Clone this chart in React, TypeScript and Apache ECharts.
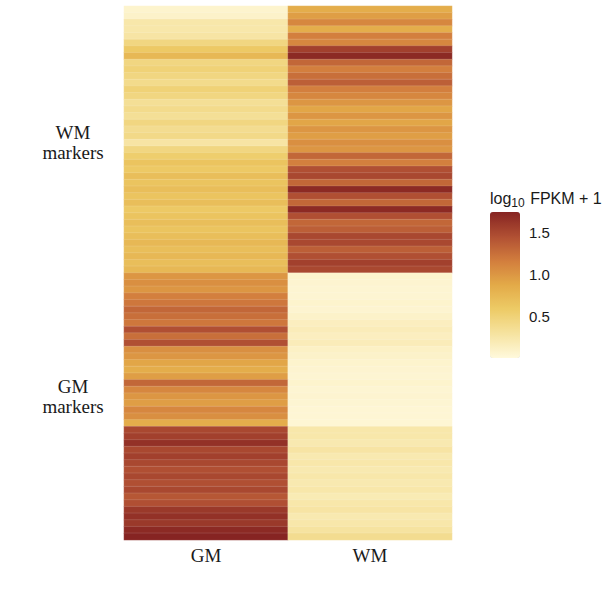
import React, { useEffect, useRef } from 'react';
import * as echarts from 'echarts';

const columns = ['GM', 'WM'];

// WM markers (top block, 40 genes)
const gmColWMMarkers = [0.08, 0.1, 0.25, 0.25, 0.28, 0.45, 0.6, 0.75, 0.45, 0.5, 0.45, 0.4, 0.5, 0.45, 0.35, 0.4, 0.35, 0.45, 0.38, 0.42, 0.28, 0.45, 0.55, 0.65, 0.6, 0.7, 0.65, 0.7, 0.65, 0.7, 0.6, 0.65, 0.7, 0.65, 0.7, 0.75, 0.7, 0.75, 0.7, 0.75];
const wmColWMMarkers = [0.85, 0.95, 1.1, 0.85, 1.15, 1.1, 1.55, 1.7, 1.3, 1.15, 1.25, 1.35, 1.15, 1.1, 1.0, 0.9, 1.0, 0.9, 1.0, 0.95, 1.05, 1.0, 1.3, 1.15, 1.45, 1.5, 1.3, 1.7, 1.45, 1.3, 1.7, 1.45, 1.3, 1.35, 1.5, 1.5, 1.35, 1.45, 1.55, 1.5];

// GM markers (bottom block, 40 genes)
const gmColGMMarkers = [1.0, 1.05, 1.0, 1.15, 1.2, 1.3, 1.25, 1.2, 1.45, 1.25, 1.45, 1.05, 1.0, 0.9, 0.85, 0.95, 1.3, 1.1, 1.0, 0.95, 1.1, 1.05, 0.85, 1.5, 1.55, 1.65, 1.5, 1.55, 1.5, 1.45, 1.5, 1.45, 1.5, 1.4, 1.45, 1.6, 1.65, 1.6, 1.7, 1.74];
const wmColGMMarkers = [0.08, 0.07, 0.06, 0.06, 0.08, 0.07, 0.1, 0.15, 0.18, 0.15, 0.18, 0.12, 0.1, 0.08, 0.07, 0.06, 0.08, 0.06, 0.07, 0.06, 0.05, 0.05, 0.05, 0.25, 0.25, 0.22, 0.28, 0.22, 0.25, 0.22, 0.25, 0.22, 0.25, 0.2, 0.25, 0.28, 0.22, 0.25, 0.3, 0.38];

const legendTicks = [0.5, 1.0, 1.5];
const valueMin = 0.01;
const valueMax = 1.74;
const colorStops = ['#FFF9DC', '#F6E3A0', '#EDCB66', '#E3AA48', '#D27D3D', '#B04F33', '#862422'];

const rowNames = [
  ...gmColWMMarkers.map((_, i) => 'WM' + (i + 1)),
  ...gmColGMMarkers.map((_, i) => 'GM' + (i + 1)),
];
const groupLabels: Record<number, string> = { 20: 'WM\nmarkers', 58: 'GM\nmarkers' };

const gmValues = [...gmColWMMarkers, ...gmColGMMarkers];
const wmValues = [...wmColWMMarkers, ...wmColGMMarkers];

export default function App() {
  const ref = useRef<HTMLDivElement>(null);
  useEffect(() => {
    if (!ref.current) return;
    const chart = echarts.init(ref.current, null, { renderer: 'svg' });
    const data: number[][] = [];
    rowNames.forEach((_, i) => {
      data.push([0, i, gmValues[i]]);
      data.push([1, i, wmValues[i]]);
    });
    const tickStyle = { color: 'rgba(255,255,255,0.85)', width: 1 };
    chart.setOption({
      animation: false,
      backgroundColor: '#ffffff',
      grid: [
        { left: 124, top: 6, width: 328, height: 534, containLabel: false, outerBoundsMode: 'none' },
        { left: 490, top: 212, width: 30, height: 146, containLabel: false, outerBoundsMode: 'none' },
      ],
      xAxis: [
        {
          type: 'category',
          gridIndex: 0,
          data: columns,
          axisLine: { show: false },
          axisTick: { show: false },
          splitLine: { show: false },
          axisLabel: { fontFamily: 'Liberation Serif', fontSize: 19, color: '#1a1a1a', margin: 6 },
        },
        { type: 'value', gridIndex: 1, min: 0, max: 1, show: false },
      ],
      yAxis: [
        {
          type: 'category',
          gridIndex: 0,
          data: rowNames,
          inverse: true,
          axisLine: { show: false },
          axisTick: { show: false },
          splitLine: { show: false },
          axisLabel: {
            interval: 0,
            formatter: (_v: string, idx: number) => groupLabels[idx] || '',
            fontFamily: 'Liberation Serif',
            fontSize: 19,
            lineHeight: 20,
            color: '#1a1a1a',
            align: 'center',
            margin: 51,
          },
        },
        {
          type: 'value',
          gridIndex: 1,
          position: 'right',
          min: valueMin,
          max: valueMax,
          axisLine: { show: false },
          splitLine: { show: false },
          axisTick: { show: true, inside: true, length: 5, customValues: legendTicks, lineStyle: tickStyle },
          axisLabel: {
            customValues: legendTicks,
            formatter: (v: number) => v.toFixed(1),
            fontFamily: 'Liberation Sans',
            fontSize: 15,
            color: '#1a1a1a',
            margin: 9,
          },
        },
        {
          type: 'value',
          gridIndex: 1,
          position: 'left',
          min: valueMin,
          max: valueMax,
          axisLine: { show: false },
          splitLine: { show: false },
          axisTick: { show: true, inside: true, length: 5, customValues: legendTicks, lineStyle: tickStyle },
          axisLabel: { show: false },
        },
      ],
      visualMap: {
        type: 'continuous',
        seriesIndex: 0,
        min: valueMin,
        max: valueMax,
        calculable: false,
        orient: 'vertical',
        left: 490,
        top: 212,
        padding: 0,
        itemWidth: 30,
        itemHeight: 146,
        hoverLink: false,
        inRange: { color: colorStops },
      },
      graphic: [
        {
          type: 'text',
          left: 490,
          top: 190,
          z: 100,
          style: {
            text: '{a|log}{s|10}{a| FPKM + 1}',
            rich: {
              a: { fontFamily: 'Liberation Sans', fontSize: 16, fill: '#1a1a1a', lineHeight: 19, verticalAlign: 'bottom' },
              s: { fontFamily: 'Liberation Sans', fontSize: 12, fill: '#1a1a1a', lineHeight: 19, verticalAlign: 'bottom', padding: [0, 1, -3, 0] },
            },
          },
        },
      ],
      series: [
        {
          type: 'heatmap',
          xAxisIndex: 0,
          yAxisIndex: 0,
          data,
          itemStyle: { borderColor: 'rgba(255,255,255,0.22)', borderWidth: 0.6 },
          emphasis: { disabled: true },
        },
        { type: 'scatter', xAxisIndex: 1, yAxisIndex: 1, data: [], silent: true },
        { type: 'scatter', xAxisIndex: 1, yAxisIndex: 2, data: [], silent: true },
      ],
    });
    return () => chart.dispose();
  }, []);
  return <div ref={ref} style={{ position: 'fixed', left: 0, top: 0, width: 611, height: 604 }} />;
}
